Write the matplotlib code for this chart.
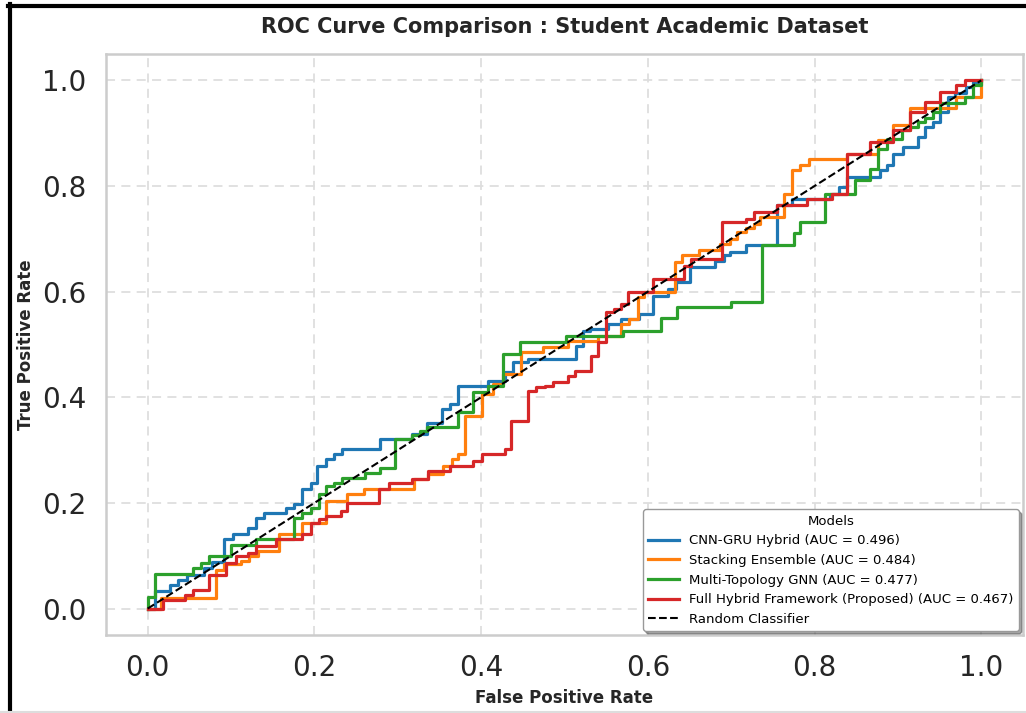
import numpy as np
import matplotlib
matplotlib.use("Agg")
import matplotlib.pyplot as plt
from matplotlib.lines import Line2D

# ROC corner points (fpr, tpr), drawn with steps-post
fpr_cnn = [0.0, 0.0084, 0.0263, 0.0362, 0.047, 0.0681, 0.0777, 0.092, 0.1019, 0.1198,
           0.1299, 0.1398, 0.1657, 0.1756, 0.1855, 0.1956, 0.2035, 0.2135, 0.2234, 0.2333,
           0.2792, 0.317, 0.3349, 0.3528, 0.3628, 0.3719, 0.4086, 0.4286, 0.4385, 0.4564,
           0.5141, 0.5221, 0.5301, 0.552, 0.5679, 0.5898, 0.6057, 0.6237, 0.6336, 0.6511,
           0.681, 0.6914, 0.6989, 0.7172, 0.7551, 0.773, 0.8184, 0.8288, 0.8387, 0.8785,
           0.8865, 0.8945, 0.9065, 0.9244, 0.9323, 0.9423, 0.9502, 0.9602, 0.9681, 0.9821,
           0.99, 1.0]
tpr_cnn = [0.0, 0.0328, 0.0455, 0.055, 0.0645, 0.0772, 0.0879, 0.131, 0.1404, 0.1531,
           0.1721, 0.1816, 0.1911, 0.1973, 0.2258, 0.2385, 0.27, 0.2827, 0.2922, 0.3017,
           0.322, 0.330, 0.351, 0.3776, 0.387, 0.4218, 0.4313, 0.4478, 0.4662, 0.4725,
           0.4977, 0.5262, 0.5294, 0.5389, 0.5484, 0.5579, 0.5926, 0.6053, 0.6186, 0.6465,
           0.659, 0.6685, 0.6755, 0.6875, 0.7634, 0.7761, 0.7856, 0.7983, 0.8173, 0.8298,
           0.8393, 0.8615, 0.8742, 0.8932, 0.9121, 0.9216, 0.9406, 0.9691, 0.9753, 0.988,
           0.9975, 1.0]

fpr_stack = [0.0, 0.0164, 0.0821, 0.092, 0.112, 0.1219, 0.1318, 0.1577, 0.1855, 0.2135,
             0.2393, 0.2593, 0.319, 0.3369, 0.3548, 0.3648, 0.3728, 0.3808, 0.4006, 0.4146,
             0.4265, 0.4484, 0.4743, 0.5042, 0.54, 0.5679, 0.5779, 0.5878, 0.5958, 0.6332,
             0.6416, 0.6615, 0.687, 0.6989, 0.7073, 0.7172, 0.7272, 0.7351, 0.7631, 0.773,
             0.7829, 0.793, 0.8387, 0.8766, 0.8945, 0.9143, 0.9701, 1.0]
tpr_stack = [0.0, 0.0203, 0.074, 0.0835, 0.0898, 0.0992, 0.1087, 0.1404, 0.1626, 0.2036,
             0.2163, 0.2271, 0.2448, 0.2543, 0.27, 0.2827, 0.2922, 0.3649, 0.4061, 0.425,
             0.444, 0.4852, 0.4947, 0.5072, 0.5167, 0.5389, 0.5484, 0.5896, 0.5996, 0.656,
             0.6685, 0.678, 0.6907, 0.7002, 0.7135, 0.7205, 0.7287, 0.7414, 0.7856, 0.8298,
             0.8393, 0.852, 0.8615, 0.8867, 0.9152, 0.9482, 0.9691, 1.0]

fpr_gnn = [0.0, 0.0, 0.0084, 0.0541, 0.0642, 0.0741, 0.1, 0.1299, 0.1756, 0.1855,
           0.1956, 0.2055, 0.2135, 0.2234, 0.2333, 0.2613, 0.2792, 0.2971, 0.317, 0.327,
           0.3349, 0.3728, 0.3907, 0.4086, 0.4265, 0.4465, 0.5022, 0.5699, 0.6157, 0.6356,
           0.6993, 0.7372, 0.775, 0.7829, 0.8128, 0.8486, 0.8666, 0.8766, 0.8865, 0.9044,
           0.9143, 0.9244, 0.9323, 0.9423, 0.9502, 0.98, 0.99, 1.0]
tpr_gnn = [0.0, 0.0222, 0.0664, 0.0759, 0.0867, 0.0992, 0.1201, 0.1309, 0.1721, 0.1816,
           0.1911, 0.2163, 0.2321, 0.2385, 0.248, 0.2575, 0.267, 0.322, 0.3283, 0.3364,
           0.3429, 0.3713, 0.4093, 0.4218, 0.482, 0.5042, 0.5167, 0.5262, 0.5497, 0.5706,
           0.5801, 0.6888, 0.7116, 0.7319, 0.7856, 0.8108, 0.833, 0.871, 0.8899, 0.9057,
           0.9121, 0.9216, 0.9279, 0.9406, 0.9564, 0.9691, 0.9911, 1.0]

fpr_full = [0.0, 0.0183, 0.0442, 0.0541, 0.0741, 0.094, 0.106, 0.1198, 0.1299, 0.1538,
            0.1855, 0.1956, 0.2055, 0.2135, 0.2315, 0.2393, 0.2772, 0.2891, 0.317, 0.3369,
            0.3628, 0.3907, 0.4006, 0.4286, 0.4364, 0.4564, 0.4663, 0.4763, 0.4863, 0.5042,
            0.5122, 0.532, 0.54, 0.5499, 0.56, 0.5679, 0.5759, 0.6057, 0.6436, 0.6515,
            0.6894, 0.7172, 0.7272, 0.7551, 0.7909, 0.8208, 0.8387, 0.8666, 0.8945, 0.9143,
            0.9323, 0.9502, 0.9701, 0.98, 1.0]
tpr_full = [0.0, 0.0171, 0.0266, 0.0347, 0.0645, 0.0867, 0.0992, 0.1057, 0.1182, 0.1309,
            0.1404, 0.1626, 0.1689, 0.1751, 0.1846, 0.2006, 0.2258, 0.2385, 0.2448, 0.2605,
            0.27, 0.2795, 0.2922, 0.3017, 0.3554, 0.4123, 0.4188, 0.4218, 0.4283, 0.4408,
            0.4503, 0.4787, 0.5042, 0.5611, 0.5674, 0.5769, 0.599, 0.6243, 0.6495, 0.6622,
            0.7319, 0.7381, 0.7509, 0.7634, 0.7761, 0.7856, 0.8615, 0.8837, 0.9057, 0.9406,
            0.9596, 0.9786, 0.9911, 1.0, 1.0]

model_names = ["CNN-GRU Hybrid", "Stacking Ensemble", "Multi-Topology GNN",
               "Full Hybrid Framework (Proposed)"]
auc_values = [0.496, 0.484, 0.477, 0.467]
colors = ["#1f77b4", "#ff7f0e", "#2ca02c", "#d62728"]

curves = [(fpr_cnn, tpr_cnn), (fpr_stack, tpr_stack), (fpr_gnn, tpr_gnn), (fpr_full, tpr_full)]

fig = plt.figure(figsize=(10.26, 7.13), dpi=100)
ax = fig.add_axes([0.1033, 0.1094, 0.8937, 0.8149])

for (x, y), name, auc, c in zip(curves, model_names, auc_values, colors):
    ax.step(x, y, where="post", color=c, lw=2.3, label=f"{name} (AUC = {auc:.3f})")
ax.plot([0, 1], [0, 1], "k--", lw=1.5, label="Random Classifier")

ax.set_xlim(-0.05, 1.05)
ax.set_ylim(-0.05, 1.05)
ax.set_xticks(np.arange(0, 1.01, 0.2))
ax.set_yticks(np.arange(0, 1.01, 0.2))
ax.tick_params(length=0, labelsize=20, pad=14, labelcolor="#262626")
ax.grid(True, color="#dedede", lw=1.3, linestyle=(0, (5, 3.5)))
ax.set_axisbelow(True)
for s in ax.spines.values():
    s.set_color("#cccccc")
    s.set_linewidth(1.8)

ax.set_title("ROC Curve Comparison : Student Academic Dataset", fontsize=15,
             fontweight="bold", color="#262626", pad=15)
ax.set_xlabel("False Positive Rate", fontsize=12, fontweight="bold", color="#262626", labelpad=5)
ax.set_ylabel("True Positive Rate", fontsize=12, fontweight="bold", color="#262626", labelpad=5)

leg = ax.legend(title="Models", loc="lower right", fontsize=9.5, title_fontsize=9.5,
                shadow=True, framealpha=1, labelspacing=0.5, borderaxespad=0.3,
                handlelength=2.3)
leg.get_frame().set_edgecolor("#999999")

# black screenshot frame along the left and top edges
fig.add_artist(Line2D([0.0098, 0.0098], [0, 0.9944], transform=fig.transFigure, color="black", lw=3))
fig.add_artist(Line2D([0.0078, 1.0], [0.9916, 0.9916], transform=fig.transFigure, color="black", lw=3))
fig.add_artist(Line2D([0.0, 1.0], [0.002, 0.002], transform=fig.transFigure, color="#dddddd", lw=1.5))

fig.savefig("out.png", dpi=100)
